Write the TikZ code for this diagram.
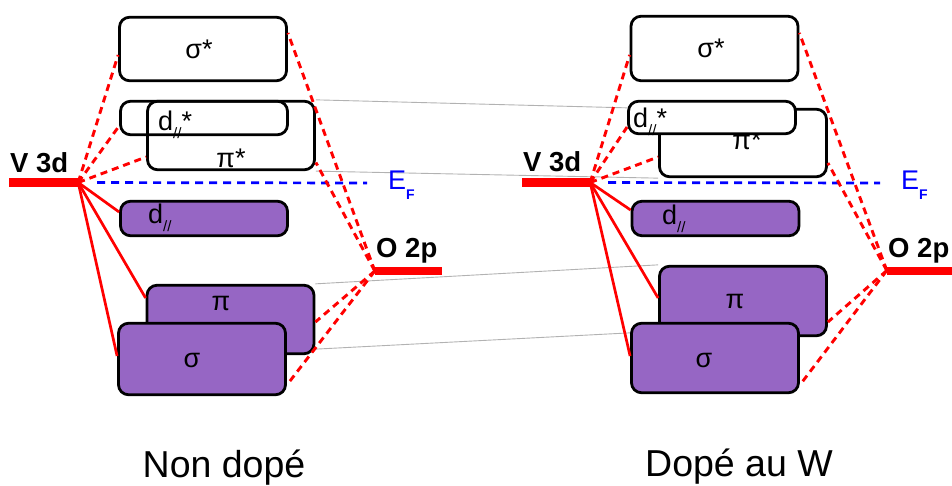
\documentclass[tikz,border=0pt]{standalone}
\usepackage{fontspec}
\setmainfont{Liberation Sans}
\usepackage{xcolor}
\usetikzlibrary{positioning,backgrounds,calc}
\definecolor{occpurple}{RGB}{150,102,196}
\newcommand{\dpar}{d\raisebox{-8pt}{\fontsize{15}{15}\selectfont //}}

\begin{document}
\begin{tikzpicture}[x=1pt, y=-1pt,
  orbbox/.style={rectangle, rounded corners=10pt, draw=black, line width=2.8pt, minimum width=167pt, inner sep=0pt},
  occbox/.style={orbbox, fill=occpurple},
  bar/.style={rectangle, fill=red, inner sep=0pt},
  orb/.style={font=\fontsize{27}{27}\selectfont, inner sep=0pt, anchor=base},
  orbl/.style={orb, anchor=base west},
  lvltxt/.style={font=\fontsize{27.5}{27.5}\selectfont\bfseries, inner sep=0pt, anchor=base west},
  efl/.style={font=\fontsize{27}{27}\selectfont, text=blue, inner sep=0pt, anchor=base west},
  caption/.style={font=\fontsize{37.5}{37.5}\selectfont, inner sep=0pt, anchor=base},
  bond/.style={draw=red, line width=2.7pt},
  anti/.style={draw=red, line width=2.9pt, dash pattern=on 7pt off 5pt},
  fermi/.style={draw=blue, line width=2.7pt, dash pattern=on 8pt off 6pt},
  link/.style={draw=gray!60, line width=0.9pt}
]
\useasboundingbox (0,0) rectangle (952,486);
% non dope
\node[orbbox, minimum height=63.5pt] (sigSL) at (203,49) {};
\node[orb] (sigSLt) at (199,59) {σ*};
\node[orbbox, minimum height=33.5pt] (dsL) at (204,118) {};
\node[orbl] (dsLt) at (158,131) {\dpar*};
\node[orbbox, minimum height=68.5pt] (pisL) at (231,135.5) {};
\node[orb] (pisLt) at (231,168) {π*};
\node[occbox, minimum height=34.5pt] (dL) at (204,218.5) {};
\node[orbl] (dLt) at (148,224) {\dpar};
\node[occbox, minimum height=68.5pt] (piL) at (230.5,319.5) {};
\node[orb] (piLt) at (221,310) {π};
\node[occbox, minimum height=71.5pt] (sigL) at (202,359) {};
\node[orb] (sigLt) at (192,367) {σ};
\node[bar, minimum width=69pt, minimum height=9pt] (v3dL) at (43.5,182.5) {};
\node[lvltxt] (v3dLt) at (10,173) {V 3d};
\node[bar, minimum width=67pt, minimum height=8pt] (o2pL) at (408.5,271) {};
\node[lvltxt] (o2pLt) at (376,257) {O 2p};
\node[efl] (efLt) at (388,190) {E\raisebox{-10pt}{\fontsize{14}{14}\selectfont\bfseries F}};
\coordinate (efLend) at (367,183);
\node[caption] (capL) at (224,477) {Non dopé};
% dope au W
\node[orbbox, minimum height=64.5pt] (sigSR) at (714.5,48.5) {};
\node[orb] (sigSRt) at (711,58) {σ*};
\node[orbbox, minimum height=67.5pt] (pisR) at (743,143) {};
\node[orb] (pisRt) at (747,150) {π*};
\node[orbbox, fill=white, minimum height=32.5pt] (dsR) at (712,117.5) {};
\node[orbl] (dsRt) at (633,128) {\dpar*};
\node[occbox, minimum height=34.5pt] (dR) at (715.5,218.5) {};
\node[orbl] (dRt) at (662,225) {\dpar};
\node[occbox, minimum height=69.5pt] (piR) at (743,301) {};
\node[orb] (piRt) at (735,308) {π};
\node[occbox, minimum height=69.5pt] (sigR) at (715,358) {};
\node[orb] (sigRt) at (704,367) {σ};
\node[bar, minimum width=68pt, minimum height=9pt] (v3dR) at (556,182.5) {};
\node[lvltxt] (v3dRt) at (523,172) {V 3d};
\node[bar, minimum width=67pt, minimum height=8pt] (o2pR) at (920.5,270.5) {};
\node[lvltxt] (o2pRt) at (888,257) {O 2p};
\node[efl] (efRt) at (901,190) {E\raisebox{-10pt}{\fontsize{14}{14}\selectfont\bfseries F}};
\coordinate (efRend) at (880,183);
\node[caption] (capR) at (739,476) {Dopé au W};
% links between the two
\begin{scope}[on background layer]
\draw[link] (pisL.north east) -- ([yshift=-8pt]dsR.north west);
\draw[link] (pisL.south east) -- (pisR.south west);
\draw[link] (piL.north east) -- (piR.north west);
\draw[link] ([yshift=6pt]piL.south east) -- ([yshift=-11pt]sigR.north west);
\end{scope}
% fermi level
\draw[fermi, shorten <=19pt] (v3dL.east) -- (efLend);
\draw[fermi, shorten <=18pt] (v3dR.east) -- (efRend);
% left bonds
\draw[bond] (v3dL.east) -- ([yshift=6.5pt]dL.west);
\draw[bond] (v3dL.east) -- ([yshift=21.5pt]piL.west);
\draw[bond] (v3dL.east) -- ([yshift=3pt]sigL.west);
\draw[anti] (v3dL.east) -- ([yshift=-6pt]sigSL.west);
\draw[anti] (v3dL.east) -- ([yshift=-8pt]dsL.west);
\draw[anti] (v3dL.east) -- ([yshift=-21.5pt]pisL.west);
\draw[anti] (o2pL.west) -- ([yshift=16pt]sigSL.east);
\draw[anti] (o2pL.west) -- ([yshift=-27pt]pisL.east);
\draw[anti] (o2pL.west) -- ([yshift=-2.5pt]piL.east);
\draw[anti] (o2pL.west) -- ([yshift=-26pt]sigL.east);
% right bonds
\draw[bond] (v3dR.east) -- ([yshift=8.5pt]dR.west);
\draw[bond] (v3dR.east) -- ([yshift=3pt]piR.west);
\draw[bond] (v3dR.east) -- ([yshift=2pt]sigR.west);
\draw[anti] (v3dR.east) -- ([yshift=-6.5pt]sigSR.west);
\draw[anti] (v3dR.east) -- ([yshift=-9.5pt]dsR.west);
\draw[anti] (v3dR.east) -- ([yshift=-14pt]pisR.west);
\draw[anti] (o2pR.west) -- ([yshift=15.5pt]sigSR.east);
\draw[anti] (o2pR.west) -- ([yshift=-20pt]pisR.east);
\draw[anti] (o2pR.west) -- ([yshift=-21pt]piR.east);
\draw[anti] (o2pR.west) -- ([yshift=-27pt]sigR.east);
\end{tikzpicture}
\end{document}
